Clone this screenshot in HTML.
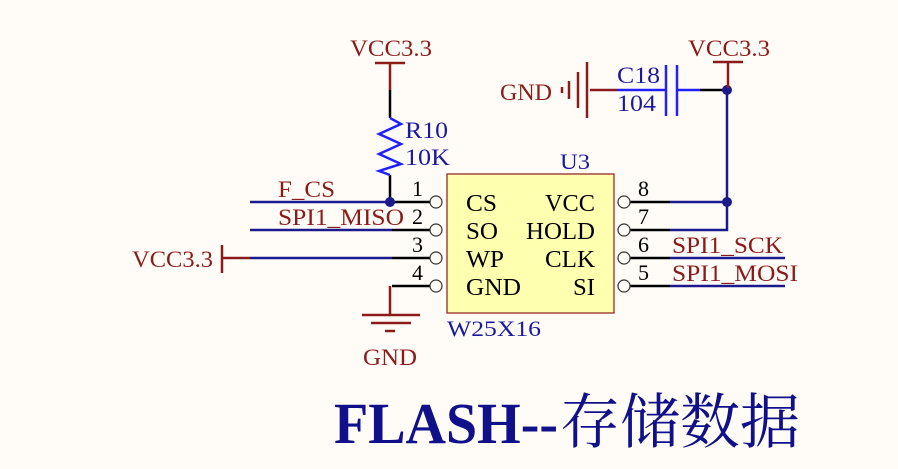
<!DOCTYPE html>
<html><head><meta charset="utf-8"><style>
html,body{margin:0;padding:0;background:#fffcf7;}
svg{display:block}
text{font-family:"Liberation Serif","Noto Serif CJK SC",serif;}
</style></head><body>
<svg width="898" height="469" viewBox="0 0 898 469" xmlns="http://www.w3.org/2000/svg">
<rect width="898" height="469" fill="#fffcf7"/>
<rect x="447" y="174" width="167" height="139" fill="#ffffb0" stroke="#8b1a1a" stroke-width="1.2"/>
<g font-size="24" fill="#000">
<text x="466" y="211" textLength="31" lengthAdjust="spacingAndGlyphs">CS</text><text x="466" y="239" textLength="32" lengthAdjust="spacingAndGlyphs">SO</text><text x="466" y="267" textLength="38" lengthAdjust="spacingAndGlyphs">WP</text><text x="466" y="295" textLength="55" lengthAdjust="spacingAndGlyphs">GND</text>
<text x="545" y="211" textLength="50" lengthAdjust="spacingAndGlyphs">VCC</text><text x="526" y="239" textLength="69" lengthAdjust="spacingAndGlyphs">HOLD</text>
<text x="545" y="267" textLength="50" lengthAdjust="spacingAndGlyphs">CLK</text><text x="573" y="295" textLength="22" lengthAdjust="spacingAndGlyphs">SI</text>
</g>
<text x="560" y="169" font-size="22" fill="#1a1aa0" textLength="30" lengthAdjust="spacingAndGlyphs">U3</text>
<text x="447" y="336" font-size="22" fill="#1a1aa0" textLength="94" lengthAdjust="spacingAndGlyphs">W25X16</text>
<g stroke="#000" stroke-width="2.5" fill="none">
<line x1="392" y1="202" x2="430" y2="202"/><line x1="392" y1="230" x2="430" y2="230"/>
<line x1="392" y1="258" x2="430" y2="258"/><line x1="392" y1="286" x2="430" y2="286"/>
<line x1="630" y1="202" x2="670" y2="202"/><line x1="630" y1="230" x2="670" y2="230"/>
<line x1="630" y1="258" x2="670" y2="258"/><line x1="630" y1="286" x2="670" y2="286"/>
<line x1="390" y1="286" x2="390" y2="315" stroke="#8b1a1a"/>
<line x1="390" y1="90" x2="390" y2="118"/><line x1="390" y1="175" x2="390" y2="202"/>
<line x1="590" y1="90" x2="617" y2="90" stroke="#8b1a1a"/>
<line x1="700" y1="90" x2="727" y2="90"/>
</g>
<g fill="#fffcf7" stroke="#333" stroke-width="1.2">
<circle cx="436" cy="202" r="6"/><circle cx="436" cy="230" r="6"/><circle cx="436" cy="258" r="6"/><circle cx="436" cy="286" r="6"/>
<circle cx="624" cy="202" r="6"/><circle cx="624" cy="230" r="6"/><circle cx="624" cy="258" r="6"/><circle cx="624" cy="286" r="6"/>
</g>
<g font-size="22" fill="#000">
<text x="412" y="196">1</text><text x="412" y="224">2</text><text x="412" y="252">3</text><text x="412" y="280">4</text>
<text x="638" y="196">8</text><text x="638" y="224">7</text><text x="638" y="252">6</text><text x="638" y="280">5</text>
</g>
<g stroke="#1a1a8c" stroke-width="2.5" fill="none">
<line x1="250" y1="202" x2="392" y2="202"/><line x1="250" y1="230" x2="392" y2="230"/>
<line x1="250" y1="258" x2="392" y2="258"/>
<line x1="670" y1="202" x2="727" y2="202"/><polyline points="670,230 727,230 727,88"/>
<line x1="670" y1="258" x2="785" y2="258"/><line x1="670" y1="286" x2="785" y2="286"/>
</g>
<circle cx="390" cy="202" r="5" fill="#1a1a8c"/>
<circle cx="727" cy="202" r="5" fill="#1a1a8c"/><circle cx="727" cy="90" r="5" fill="#1a1a8c"/>
<g font-size="23" fill="#8b1a1a">
<text x="278" y="197" textLength="57" lengthAdjust="spacingAndGlyphs">F_CS</text><text x="278" y="225" textLength="126" lengthAdjust="spacingAndGlyphs">SPI1_MISO</text>
<text x="672" y="253" textLength="111" lengthAdjust="spacingAndGlyphs">SPI1_SCK</text><text x="672" y="281" textLength="126" lengthAdjust="spacingAndGlyphs">SPI1_MOSI</text>
<text x="350" y="56" textLength="82" lengthAdjust="spacingAndGlyphs">VCC3.3</text>
<text x="688" y="56" textLength="82" lengthAdjust="spacingAndGlyphs">VCC3.3</text>
<text x="132" y="267" textLength="81" lengthAdjust="spacingAndGlyphs">VCC3.3</text>
<text x="363" y="365" textLength="54" lengthAdjust="spacingAndGlyphs">GND</text>
<text x="500" y="100" textLength="52" lengthAdjust="spacingAndGlyphs">GND</text>
</g>
<g stroke="#8b1a1a" stroke-width="2.5" fill="none">
<line x1="375" y1="63" x2="405" y2="63"/><line x1="390" y1="63" x2="390" y2="90"/>
<line x1="713" y1="62" x2="743" y2="62"/><line x1="728" y1="62" x2="728" y2="88"/>
<line x1="222" y1="245" x2="222" y2="273"/><line x1="222" y1="258" x2="250" y2="258"/>
<line x1="362" y1="315" x2="420" y2="315"/><line x1="371" y1="323" x2="411" y2="323"/><line x1="385" y1="331" x2="395" y2="331"/>
<line x1="587" y1="62" x2="587" y2="118"/><line x1="578" y1="72" x2="578" y2="108"/>
<line x1="569" y1="81" x2="569" y2="99"/><line x1="562" y1="87" x2="562" y2="93"/>
</g>
<polyline points="390,118 401,124 379,134 401,144 379,154 401,164 379,171 390,175" stroke="#2020ff" stroke-width="2.5" fill="none"/>
<g stroke="#2020ff" stroke-width="2.5"><line x1="617" y1="90" x2="666" y2="90"/><line x1="677" y1="90" x2="700" y2="90"/>
<line x1="666" y1="65" x2="666" y2="116"/><line x1="677" y1="65" x2="677" y2="116"/></g>
<g font-size="23" fill="#1a1aa0">
<text x="405" y="138" textLength="43" lengthAdjust="spacingAndGlyphs">R10</text><text x="405" y="165" textLength="45" lengthAdjust="spacingAndGlyphs">10K</text>
<text x="617" y="83" textLength="43" lengthAdjust="spacingAndGlyphs">C18</text><text x="617" y="111" textLength="39" lengthAdjust="spacingAndGlyphs">104</text>
</g>
<text x="334" y="443" font-size="58" font-weight="bold" fill="#10108a" textLength="224" lengthAdjust="spacingAndGlyphs">FLASH--</text>
<text x="560" y="443" font-size="60" fill="#10108a" font-family="Noto Serif CJK SC, serif" textLength="240" lengthAdjust="spacingAndGlyphs">存储数据</text>
</svg>
</body></html>
